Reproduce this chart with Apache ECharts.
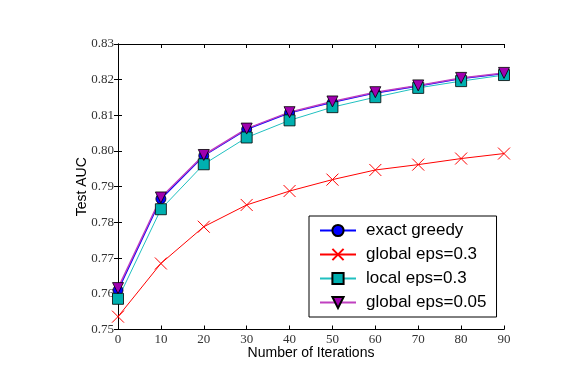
<!DOCTYPE html>
<html><head><meta charset="utf-8">
<script src="https://cdn.jsdelivr.net/npm/echarts@6/dist/echarts.min.js"></script>
<style>html,body{margin:0;padding:0;background:#fff}#c{width:574px;height:374px}</style>
</head><body><div id="c"></div>
<script>
var iterations = [0, 10, 20, 30, 40, 50, 60, 70, 80, 90];
var exactGreedy = [0.7610, 0.7866, 0.7987, 0.8061, 0.8107, 0.8137, 0.8163, 0.8182, 0.8203, 0.8217];
var globalEps03 = [0.7536, 0.7685, 0.7788, 0.7849, 0.7888, 0.7920, 0.7947, 0.7962, 0.7979, 0.7993];
var localEps03  = [0.7586, 0.7837, 0.7963, 0.8038, 0.8086, 0.8123, 0.8151, 0.8177, 0.8196, 0.8213];
var globalEps005 = [0.7616, 0.7870, 0.7989, 0.8063, 0.8109, 0.8139, 0.8165, 0.8184, 0.8205, 0.8219];
var yTicks = [0.75, 0.76, 0.77, 0.78, 0.79, 0.80, 0.81, 0.82, 0.83];

function pairs(v){ return iterations.map(function(x,i){ return [x, v[i]]; }); }

var serif = 'Liberation Serif';
var chart = echarts.init(document.getElementById('c'), null, {renderer: 'canvas'});
var axisLine = {show: true, lineStyle: {color: '#000', width: 1}};
var tick = {show: true, inside: true, length: 4, lineStyle: {color: '#000'}};
chart.setOption({
  animation: false,
  grid: {left: 118, right: 70, top: 44, bottom: 44.5, containLabel: false},
  xAxis: [{
    type: 'value', min: 0, max: 90, interval: 10,
    axisLine: axisLine, axisTick: tick,
    axisLabel: {margin: 4, fontFamily: serif, fontSize: 13, color: '#333'},
    splitLine: {show: false},
    name: 'Number of Iterations', nameLocation: 'middle', nameGap: 17, nameMoveOverlap: false,
    nameTextStyle: {fontFamily: 'Liberation Sans', fontSize: 14, color: '#000', verticalAlign: 'top'}
  }, {
    type: 'value', min: 0, max: 90, interval: 10, position: 'top',
    axisLine: axisLine, axisTick: tick,
    axisLabel: {show: false}, splitLine: {show: false}
  }],
  yAxis: [{
    type: 'value', min: 0.75, max: 0.83, interval: 0.01,
    axisLine: axisLine, axisTick: tick,
    axisLabel: {margin: 4, fontFamily: serif, fontSize: 13, color: '#333',
      formatter: function(v){ return v.toFixed(2); }},
    splitLine: {show: false},
    name: 'Test AUC', nameLocation: 'middle', nameGap: 29, nameRotate: 90, nameMoveOverlap: false,
    nameTextStyle: {fontFamily: 'Liberation Sans', fontSize: 14, color: '#000', verticalAlign: 'bottom'}
  }, {
    type: 'value', min: 0.75, max: 0.83, interval: 0.01, position: 'right',
    axisLine: axisLine, axisTick: tick,
    axisLabel: {show: false}, splitLine: {show: false}
  }],
  legend: {
    orient: 'vertical', left: 309, top: 216, width: 187,
    padding: [6, 10, 6, 10], itemGap: 7, itemWidth: 36, itemHeight: 14,
    backgroundColor: '#fff', borderColor: '#000', borderWidth: 1,
    textStyle: {fontFamily: 'Liberation Sans', fontSize: 17, color: '#000', padding: [0, 0, 0, 5]},
    data: ['exact greedy', 'global eps=0.3', 'local eps=0.3', 'global eps=0.05']
  },
  series: [{
    name: 'exact greedy', type: 'line', data: pairs(exactGreedy),
    symbol: 'circle', symbolSize: 10,
    lineStyle: {color: '#0000ff', width: 1.5},
    itemStyle: {color: '#0000ff', borderColor: '#000', borderWidth: 0.8}
  }, {
    name: 'global eps=0.3', type: 'line', data: pairs(globalEps03),
    symbol: 'path://M0,0L10,10M10,0L0,10', symbolSize: 12,
    lineStyle: {color: '#ff0000', width: 1},
    itemStyle: {color: 'none', borderColor: '#ff0000', borderWidth: 1}
  }, {
    name: 'local eps=0.3', type: 'line', data: pairs(localEps03),
    symbol: 'rect', symbolSize: 11,
    lineStyle: {color: '#20c0c0', width: 1},
    itemStyle: {color: '#00b0b0', borderColor: '#000', borderWidth: 0.8}
  }, {
    name: 'global eps=0.05', type: 'line', data: pairs(globalEps005),
    symbol: 'triangle', symbolRotate: 180, symbolSize: 11,
    lineStyle: {color: '#c040c0', width: 1.5},
    itemStyle: {color: '#a000b0', borderColor: '#000', borderWidth: 0.8}
  }]
});
</script></body></html>
